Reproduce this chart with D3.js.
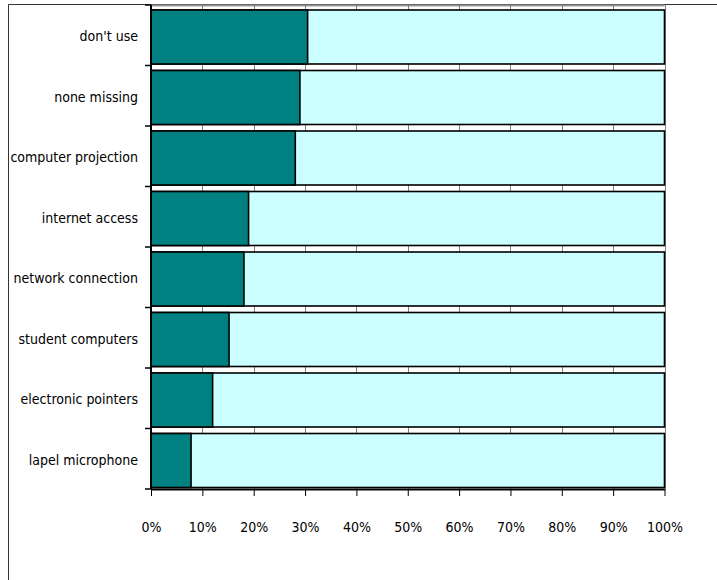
<!DOCTYPE html>
<html>
<head>
<meta charset="utf-8">
<script src="https://cdn.jsdelivr.net/npm/d3@7"></script>
<style>
  html, body { margin: 0; padding: 0; background: #fff; }
  svg { display: block; }
  .lbl { font-family: "DejaVu Sans Condensed", "DejaVu Sans", sans-serif; font-size: 14px; fill: #000; }
</style>
</head>
<body>
<svg id="chart" width="717" height="580"></svg>
<script>
// Equipment items, top to bottom
const categories = [
  "don't use",
  "none missing",
  "computer projection",
  "internet access",
  "network connection",
  "student computers",
  "electronic pointers",
  "lapel microphone"
];
// Share of responses (fraction) for each item; remainder fills to 100%
const shares = [0.305, 0.290, 0.281, 0.190, 0.181, 0.152, 0.120, 0.078];
// Axis tick values and labels
const tickValues = [0, 0.1, 0.2, 0.3, 0.4, 0.5, 0.6, 0.7, 0.8, 0.9, 1.0];
const tickLabels = ["0%", "10%", "20%", "30%", "40%", "50%", "60%", "70%", "80%", "90%", "100%"];

const svg = d3.select("#chart");
const W = 717, H = 580;
const plot = { left: 151, right: 664.5, top: 5, bottom: 489 };

// Outer chart frame (top and left edges visible)
svg.append("path")
  .attr("d", `M8.5,${H} L8.5,4.5 L${W},4.5`)
  .attr("fill", "none")
  .attr("stroke", "#333")
  .attr("stroke-width", 1);

const x = d3.scaleLinear().domain([0, 1]).range([plot.left, plot.right]);
const y = d3.scaleBand().domain(categories).range([plot.top, plot.bottom]).paddingInner(0).paddingOuter(0);

// Plot area top border
svg.append("line")
  .attr("x1", plot.left).attr("x2", plot.right)
  .attr("y1", plot.top + 0.5).attr("y2", plot.top + 0.5)
  .attr("stroke", "#999").attr("stroke-width", 2);

// Vertical gridlines
svg.append("g")
  .selectAll("line")
  .data(tickValues)
  .join("line")
  .attr("x1", d => Math.round(x(d)) + 0.5).attr("x2", d => Math.round(x(d)) + 0.5)
  .attr("y1", plot.top).attr("y2", plot.bottom)
  .attr("stroke", "#808080").attr("stroke-width", 1);

// Bars
const bw = y.bandwidth();
const rows = svg.append("g")
  .selectAll("g")
  .data(categories.map((c, i) => ({ c, v: shares[i] })))
  .join("g");

rows.append("rect")
  .attr("x", x(0))
  .attr("y", d => y(d.c) + 5)
  .attr("width", x(1) - x(0))
  .attr("height", bw - 6.5)
  .attr("fill", "#CCFFFF")
  .attr("stroke", "#000")
  .attr("stroke-width", 1.6);

rows.append("rect")
  .attr("x", x(0))
  .attr("y", d => y(d.c) + 5)
  .attr("width", d => x(d.v) - x(0))
  .attr("height", bw - 6.5)
  .attr("fill", "#008080")
  .attr("stroke", "#000")
  .attr("stroke-width", 1.6);

// Bottom axis
const xAxis = d3.axisBottom(x)
  .tickValues(tickValues)
  .tickFormat((d, i) => tickLabels[i])
  .tickSizeInner(7)
  .tickSizeOuter(0)
  .tickPadding(26);
const gx = svg.append("g")
  .attr("transform", `translate(0,${plot.bottom})`)
  .call(xAxis);
gx.select(".domain").attr("stroke", "#000").attr("stroke-width", 2);
gx.selectAll(".tick line").attr("stroke", "#000");
gx.selectAll(".tick text").attr("class", "lbl").attr("fill", "#000");

// Left axis with ticks at band boundaries
const gy = svg.append("g");
gy.append("line")
  .attr("x1", plot.left).attr("x2", plot.left)
  .attr("y1", plot.top).attr("y2", plot.bottom)
  .attr("stroke", "#000").attr("stroke-width", 2);
const bounds = categories.map(c => y(c)).concat([plot.bottom]);
gy.selectAll("line.tk")
  .data(bounds)
  .join("line")
  .attr("class", "tk")
  .attr("x1", plot.left - 6).attr("x2", plot.left)
  .attr("y1", d => d).attr("y2", d => d)
  .attr("stroke", "#000").attr("stroke-width", 1.5);
gy.selectAll("text")
  .data(categories)
  .join("text")
  .attr("class", "lbl")
  .attr("x", 138)
  .attr("y", d => y(d) + bw / 2 + 2)
  .attr("text-anchor", "end")
  .attr("dominant-baseline", "middle")
  .text(d => d);
</script>
</body>
</html>
